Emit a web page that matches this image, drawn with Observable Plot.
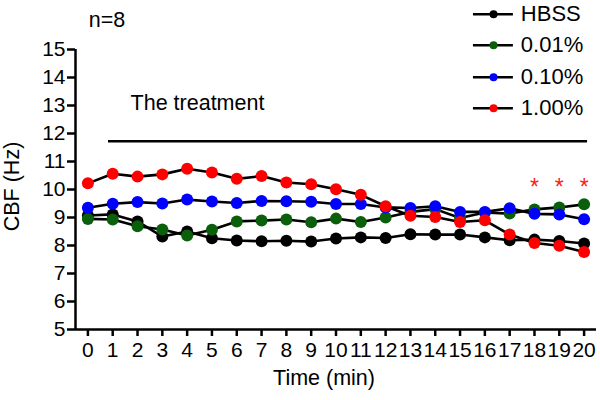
<!DOCTYPE html>
<html><head><meta charset="utf-8">
<script src="https://cdn.jsdelivr.net/npm/d3@7"></script>
<script src="https://cdn.jsdelivr.net/npm/@observablehq/plot@0.6"></script>
<style>
body{margin:0;background:#fff}
#chart svg{display:block}
</style>
</head><body><div id="chart"></div>
<script>
const times = d3.range(0, 21);
const seriesNames = ["HBSS", "0.01%", "0.10%", "1.00%"];
const seriesColors = ["#000000", "#0a5f0a", "#0000ff", "#ff0000"];
const hbss = [9.07, 9.11, 8.86, 8.32, 8.50, 8.26, 8.18, 8.15, 8.17, 8.14, 8.25, 8.29, 8.27, 8.40, 8.39, 8.39, 8.29, 8.19, 8.21, 8.16, 8.07];
const c001 = [8.95, 8.93, 8.69, 8.57, 8.36, 8.56, 8.86, 8.89, 8.93, 8.83, 8.96, 8.84, 9.00, 9.20, 9.30, 8.98, 9.18, 9.14, 9.29, 9.36, 9.47];
const c010 = [9.35, 9.49, 9.55, 9.50, 9.64, 9.57, 9.52, 9.59, 9.58, 9.56, 9.48, 9.48, 9.36, 9.34, 9.40, 9.20, 9.20, 9.33, 9.13, 9.11, 8.94];
const c100 = [10.22, 10.56, 10.46, 10.54, 10.74, 10.61, 10.38, 10.48, 10.25, 10.19, 10.01, 9.81, 9.40, 9.06, 9.02, 8.84, 8.90, 8.39, 8.09, 7.99, 7.77];
const yTicks = [5, 6, 7, 8, 9, 10, 11, 12, 13, 14, 15];
const xTicks = times;
const sigTimes = [18, 19, 20];
const sigLevel = 10.24;
const treatment = {label: "The treatment", x1: 0.83, x2: 20.14, y: 11.72, labelX: 1.72, labelY: 13.08};
const nLabel = {text: "n=8", x: 0.77, y: 16.05};
const legendRows = [16.26, 15.15, 14.01, 12.9];
const legendX = {x1: 15.54, dot: 16.35, x2: 17.15, text: 17.45};

const allSeries = [hbss, c001, c010, c100];
const data = [];
allSeries.forEach((vals, i) => vals.forEach((v, j) => data.push({t: times[j], v, s: seriesNames[i], c: seriesColors[i], k: i})));
const legend = seriesNames.map((s, i) => ({s, c: seriesColors[i], y: legendRows[i]}));

const font = "'Liberation Sans', Arial, Helvetica, sans-serif";
const marks = [];
allSeries.forEach((vals, i) => {
  const d = data.filter(r => r.k === i);
  marks.push(Plot.line(d, {x: "t", y: "v", stroke: "black", strokeWidth: 2.6}));
  marks.push(Plot.dot(d, {x: "t", y: "v", r: 6, fill: seriesColors[i], stroke: null}));
});

const chart = Plot.plot({
  width: 600, height: 400,
  marginLeft: 75, marginRight: 4, marginTop: 49, marginBottom: 71,
  style: {fontFamily: font, fontSize: "21px", color: "black", background: "white", overflow: "visible"},
  x: {domain: [-0.5, 20.5]},
  y: {domain: [5, 15]},
  marks: [
    Plot.axisY({ticks: yTicks, tickSize: 8, tickPadding: 2, tickFormat: d => d, label: null, strokeWidth: 2.5, fontSize: 21}),
    Plot.axisX({ticks: xTicks, tickSize: 7, tickPadding: 6, tickFormat: d => d, label: null, strokeWidth: 2.5, fontSize: 21}),
    Plot.ruleX([-0.5], {y1: 5, y2: 15, stroke: "black", strokeWidth: 2.5}),
    Plot.ruleY([5], {x1: -0.5, x2: 20.5, stroke: "black", strokeWidth: 2.5}),
    Plot.text(["CBF (Hz)"], {frameAnchor: "left", textAnchor: "middle", dx: -63, dy: -3, rotate: -90, fontSize: 21.5, text: d => d}),
    Plot.text(["Time (min)"], {frameAnchor: "bottom", dx: -12, dy: 55, fontSize: 21.5, text: d => d}),
    Plot.text([nLabel], {x: "x", y: "y", text: "text", fontSize: 21.5}),
    Plot.ruleY([treatment], {x1: "x1", x2: "x2", y: "y", stroke: "black", strokeWidth: 2.5}),
    Plot.text([treatment], {x: "labelX", y: "labelY", text: "label", textAnchor: "start", fontSize: 21.5}),
    ...marks,
    Plot.text(sigTimes, {x: d => d, y: () => sigLevel, text: () => "*", fill: "#ff2020", fontSize: 23, dy: 5}),
    Plot.ruleY(legend, {x1: legendX.x1, x2: legendX.x2, y: "y", stroke: "black", strokeWidth: 2.5}),
    Plot.dot(legend, {x: legendX.dot, y: "y", r: 4, fill: "c", stroke: null}),
    Plot.text(legend, {x: legendX.text, y: "y", text: "s", textAnchor: "start", fontSize: 22})
  ]
});
document.getElementById("chart").append(chart);
</script>
</body></html>
